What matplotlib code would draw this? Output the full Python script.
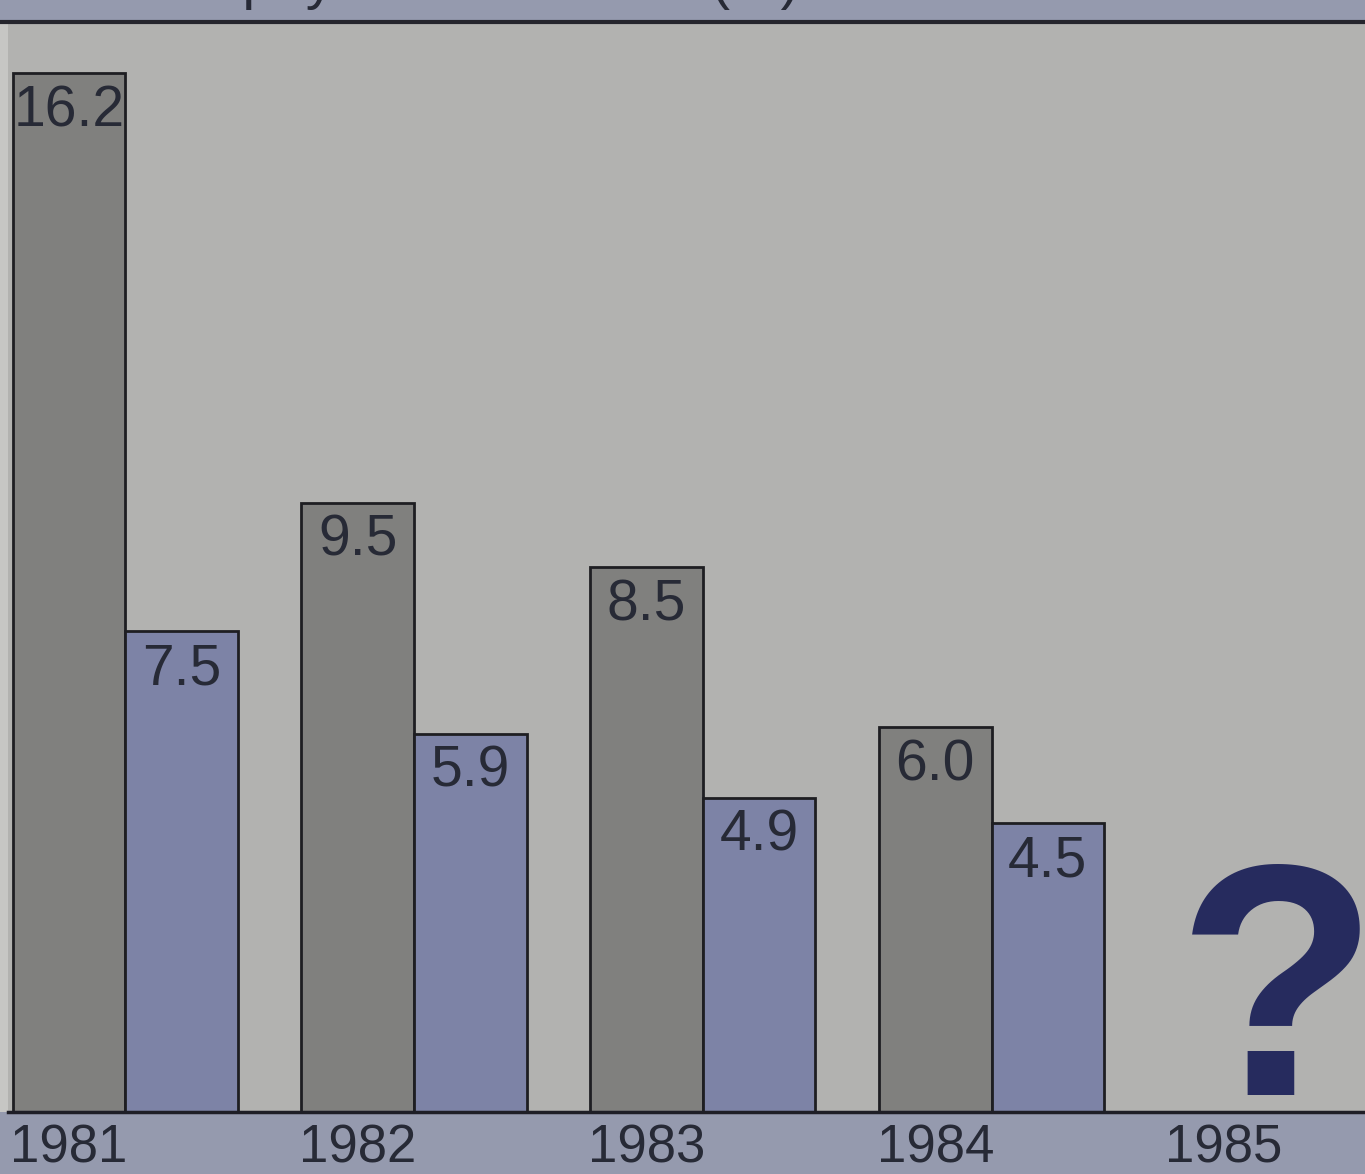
import matplotlib
matplotlib.use("Agg")
import matplotlib.pyplot as plt
from matplotlib import font_manager as fm
from matplotlib.patches import Rectangle
import numpy as np

# ---------------- data ----------------
YEARS = ["1981", "1982", "1983", "1984", "1985"]
SERIES_GREY = [16.2, 9.5, 8.5, 6.0]
SERIES_BLUE = [7.5, 5.9, 4.9, 4.5]
TITLE = "Inflation and pay rises 1981-84 (%)"

# ---------------- style ----------------
W_PX, H_PX, DPI = 1365, 1174, 100
BG = "#b2b2b0"
STRIP = "#959aae"
GREY_BAR = "#80807e"
BLUE_BAR = "#7d83a6"
TEXT = "#272a36"
NAVY = "#262b5e"
BAR_W = 0.39

# narrow Helvetica-like face if there is one, else plain Liberation Sans a bit smaller
_names = {f.name for f in fm.fontManager.ttflist}
if "Liberation Sans Narrow" in _names:
    FONT, LABEL_FS, YEAR_FS = ["Liberation Sans Narrow", "DejaVu Sans"], 45, 42
else:
    FONT, LABEL_FS, YEAR_FS = ["Liberation Sans", "DejaVu Sans"], 41, 38
QFONT = ["Liberation Sans", "DejaVu Sans"]

AX_TOP_PX, AX_BOT_PX = 22, 1112

fig = plt.figure(figsize=(W_PX / DPI, H_PX / DPI), dpi=DPI, facecolor=BG)


def fy(px):
    return 1 - px / H_PX


# strips behind the axes
fig.patches.append(Rectangle((0, fy(AX_TOP_PX)), 1, AX_TOP_PX / H_PX,
                             transform=fig.transFigure, facecolor=STRIP, edgecolor="none", zorder=-2))
fig.patches.append(Rectangle((0, 0), 1, fy(AX_BOT_PX),
                             transform=fig.transFigure, facecolor=STRIP, edgecolor="none", zorder=-2))
fig.patches.append(Rectangle((0, fy(AX_BOT_PX)), 8 / W_PX, (AX_BOT_PX - AX_TOP_PX) / H_PX,
                             transform=fig.transFigure, facecolor="#c6c6c4", edgecolor="none", zorder=-2))

ax = fig.add_axes([8 / W_PX, fy(AX_BOT_PX), 1 - 8 / W_PX, (AX_BOT_PX - AX_TOP_PX) / H_PX])
ax.set_facecolor(BG)

x = np.arange(len(SERIES_GREY))
ax.bar(x, SERIES_GREY, width=BAR_W, color=GREY_BAR, edgecolor="#1e1e22", linewidth=2, zorder=2)
ax.bar(x + BAR_W, SERIES_BLUE, width=BAR_W, color=BLUE_BAR, edgecolor="#1e1e22", linewidth=2, zorder=2)

for xs, vals in [(x, SERIES_GREY), (x + BAR_W, SERIES_BLUE)]:
    for xi, v in zip(xs, vals):
        ax.annotate(f"{v:.1f}", (xi, v), xytext=(0, -8), textcoords="offset points",
                    ha="center", va="top", fontsize=LABEL_FS, color=TEXT, family=FONT, zorder=3)

# 1985 unknown
ax.text(4 + BAR_W / 2 - 0.01, 0.26, "?", ha="center", va="baseline", fontsize=238,
        fontweight="bold", color=NAVY, family=QFONT, zorder=3)

left_px = 8
ax.set_xlim((left_px - 69) / 288.75, (W_PX - 69) / 288.75)
ax.set_ylim(0, 17.0)
for s in ["top", "right", "left"]:
    ax.spines[s].set_visible(False)
ax.spines["bottom"].set_linewidth(2.5)
ax.spines["bottom"].set_color("#1e1e26")
ax.set_yticks([])
ax.set_xticks(range(len(YEARS)))
ax.set_xticklabels(YEARS, fontsize=YEAR_FS, color=TEXT, family=FONT)
ax.tick_params(axis="x", length=0, pad=8)

# top rule and title (printed above the crop, only its tails show)
fig.add_artist(plt.Line2D([0, 1], [fy(AX_TOP_PX), fy(AX_TOP_PX)], transform=fig.transFigure,
                          color="#25252d", linewidth=3))
fig.text(800 / W_PX, fy(-2), TITLE, ha="right", va="baseline", fontsize=LABEL_FS,
         color=TEXT, family=FONT)

fig.savefig("out.png", dpi=DPI, facecolor=BG)
